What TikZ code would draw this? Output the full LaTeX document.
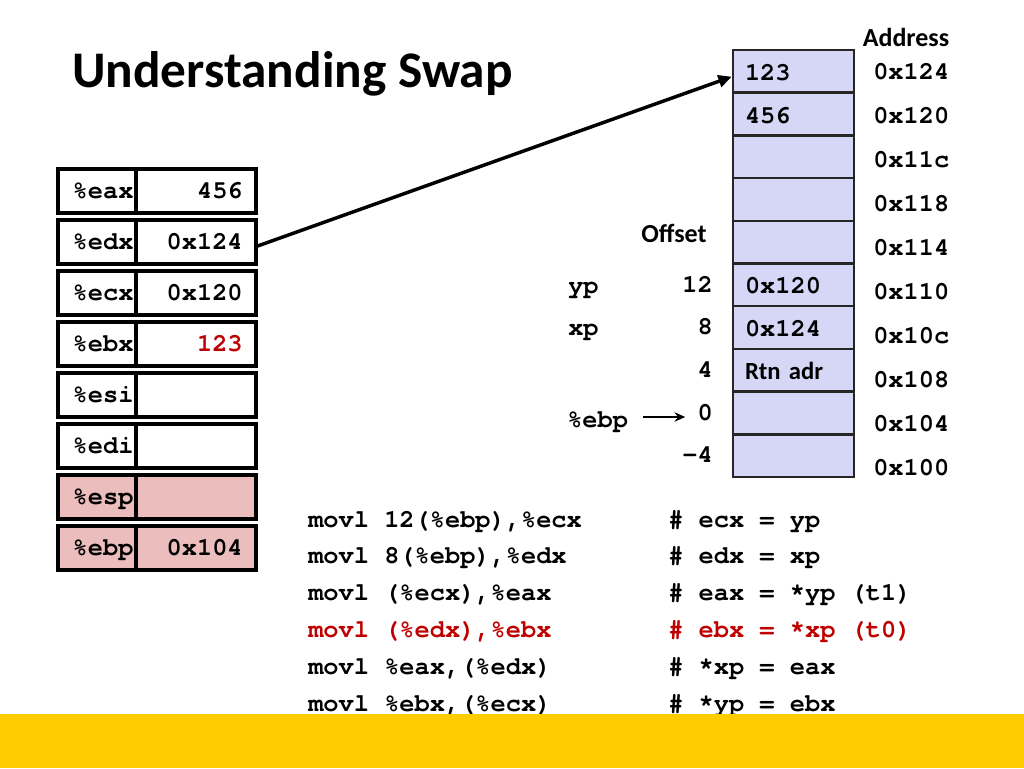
\documentclass[tikz,border=0pt]{standalone}
\usepackage{fontspec}
\setmainfont{Carlito}
\newfontfamily\codefont{texgyrecursor}[Extension=.otf, UprightFont=*-regular, BoldFont=*-bold]
\usetikzlibrary{arrows.meta,calc}
\definecolor{regpink}{RGB}{236,189,189}
\definecolor{memblue}{RGB}{214,214,246}
\definecolor{codered}{RGB}{192,0,0}
\definecolor{baryellow}{RGB}{255,204,0}
\begin{document}
\begin{tikzpicture}[x=0.75pt,y=-0.75pt,
  mono/.style={font=\codefont\bfseries\fontsize{19}{22}\selectfont, inner sep=0pt},
  sanslbl/.style={font=\bfseries\fontsize{19.5}{22}\selectfont, inner sep=0pt},
  regname/.style={mono, draw, line width=2.4pt, minimum height=33pt, text width=36.5pt, inner xsep=11pt, align=left, text height=13pt, text depth=2.5pt},
  regval/.style={mono, draw, line width=2.4pt, minimum height=33pt, text width=70pt, inner xsep=10pt, align=right, text height=13pt, text depth=2.5pt},
  memcell/.style={mono, draw=black!85, line width=1.9pt, fill=memblue, minimum height=32pt, text width=72.75pt, inner xsep=9pt, align=left, text height=15pt, text depth=1.5pt},
  bigarrow/.style={line width=2.6pt, -{Triangle[length=10pt,width=9pt]}},
  smallarrow/.style={line width=1.7pt, -{Stealth[length=8pt,width=7pt]}}
]
\useasboundingbox (0,0) rectangle (1024,768);
\fill[white] (0,0) rectangle (1024,768);

% title
\node[font=\bfseries\fontsize{38.5}{44}\selectfont, anchor=base west, inner sep=0pt] (title) at (72,87) {Understanding Swap};

% registers
\foreach \nm/\val/\fl/\tc [count=\i from 0] in {eax/456/white/black, edx/0x124/white/black, ecx/0x120/white/black, ebx/123/white/codered, esi//white/black, edi//white/black, esp//regpink/black, ebp/0x104/regpink/black}{
  \node[regname, fill=\fl] (r\nm) at (97,{191+51*\i}) {\%\nm};
  \node[regval, fill=\fl, text=\tc] (r\nm v) at (196,{191+51*\i}) {\val};
}

% memory cells
\node[memcell] (m0) at (793.5,71.35) {123};
\node[memcell] (m1) at (793.5,114.05) {456};
\node[memcell] (m2) at (793.5,156.75) {};
\node[memcell] (m3) at (793.5,199.45) {};
\node[memcell] (m4) at (793.5,242.15) {};
\node[memcell] (m5) at (793.5,284.85) {0x120};
\node[memcell] (m6) at (793.5,327.55) {0x124};
\node[memcell, font=\bfseries\fontsize{18.5}{21}\selectfont] (m7) at (793.5,370.25) {Rtn adr};
\node[memcell] (m8) at (793.5,412.95) {};
\node[memcell] (m9) at (793.5,455.65) {};

% addresses
\node[sanslbl, anchor=base] (addr) at (906,46) {Address};
\foreach \a [count=\i from 0] in {0x124,0x120,0x11c,0x118,0x114,0x110,0x10c,0x108,0x104,0x100}{
  \node[mono, anchor=base west] (a\i) at (873,{79+44.1*\i}) {\a};
}

% offsets
\node[sanslbl, anchor=base] (offh) at (674,242) {Offset};
\node[mono, anchor=base east] (off12) at (713,292) {12};
\node[mono, anchor=base east] (off8) at (713,334) {8};
\node[mono, anchor=base east] (off4) at (713,377) {4};
\node[mono, anchor=base east] (off0) at (713,420) {0};
\node[mono, anchor=base east] (offm4) at (713,462) {-4};
\node[mono, anchor=base west] (yp) at (568,293) {yp};
\node[mono, anchor=base west] (xp) at (568,335) {xp};
\node[mono, anchor=base west] (ebpl) at (567,427) {\%ebp};

% arrows
\draw[bigarrow] ([yshift=-3pt]redxv.east) -- ([yshift=-4pt]m0.west);
\draw[smallarrow] ($(ebpl.base east)+(15,-10)$) -- ($(ebpl.base east -| off0.west)+(-12,-10)$);

% code
\node[mono, anchor=base west] (c1) at (308,527) {movl 12(\%ebp),\%ecx};
\node[mono, anchor=base west] (c2) at (308,563) {movl 8(\%ebp),\%edx};
\node[mono, anchor=base west] (c3) at (308,600) {movl (\%ecx),\%eax};
\node[mono, anchor=base west, text=codered] (c4) at (308,637) {movl (\%edx),\%ebx};
\node[mono, anchor=base west] (c5) at (308,674) {movl \%eax,(\%edx)};
\node[mono, anchor=base west] (c6) at (308,711) {movl \%ebx,(\%ecx)};
\node[mono, anchor=base west] (k1) at (668,527) {\# ecx = yp};
\node[mono, anchor=base west] (k2) at (668,563) {\# edx = xp};
\node[mono, anchor=base west] (k3) at (668,600) {\# eax = *yp (t1)};
\node[mono, anchor=base west, text=codered] (k4) at (668,637) {\# ebx = *xp (t0)};
\node[mono, anchor=base west] (k5) at (668,674) {\# *xp = eax};
\node[mono, anchor=base west] (k6) at (668,711) {\# *yp = ebx};

% bottom bar
\fill[baryellow] (0,714) rectangle (1024,768);
\end{tikzpicture}
\end{document}
